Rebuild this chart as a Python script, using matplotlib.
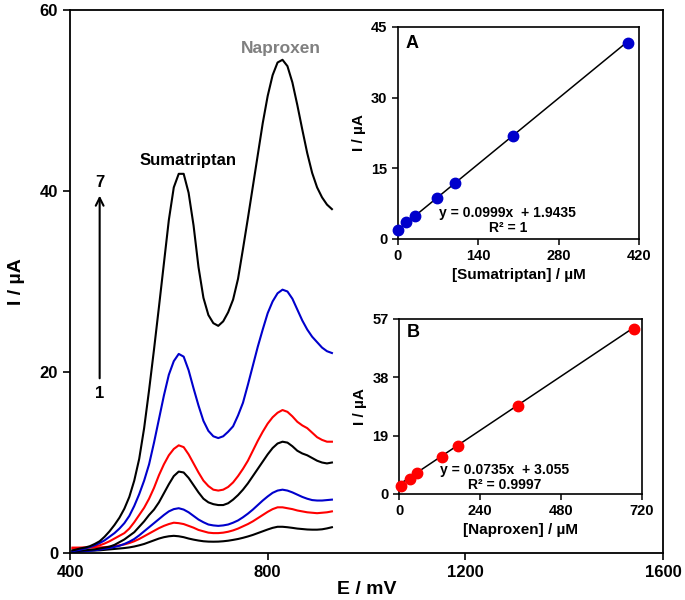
import numpy as np
import matplotlib as mp
mp.use('Agg')
import matplotlib.pyplot as plt

plt.rcParams['font.family'] = ['Liberation Sans', 'DejaVu Sans']
plt.rcParams['font.weight'] = 'bold'

# potential grid (mV) and DPV currents (uA), curves 1..7 from bottom to top
E = [405, 410, 420, 430, 440, 450, 460, 470, 480, 490, 500, 510, 520, 530, 540, 550,
     560, 570, 580, 590, 600, 610, 620, 630, 640, 650, 660, 670, 680, 690, 700, 710,
     720, 730, 740, 750, 760, 770, 780, 790, 800, 810, 820, 830, 840, 850, 860, 870,
     880, 890, 900, 910, 920, 930]

I1 = [0.2, 0.2, 0.22, 0.24, 0.26, 0.28, 0.3, 0.35, 0.4, 0.45, 0.5, 0.55, 0.62, 0.72, 0.85, 1.0,
      1.2, 1.4, 1.6, 1.75, 1.85, 1.9, 1.85, 1.75, 1.6, 1.48, 1.38, 1.3, 1.26, 1.25, 1.26, 1.3,
      1.36, 1.45, 1.55, 1.68, 1.83, 2.0, 2.2, 2.4, 2.6, 2.78, 2.9, 2.9, 2.85, 2.78, 2.7, 2.65,
      2.6, 2.58, 2.58, 2.62, 2.72, 2.85]
I2 = [0.6, 0.6, 0.6, 0.6, 0.6, 0.6, 0.62, 0.65, 0.7, 0.75, 0.85, 0.95, 1.1, 1.3, 1.55, 1.85,
      2.15, 2.45, 2.75, 3.0, 3.2, 3.35, 3.3, 3.2, 3.0, 2.8, 2.55, 2.4, 2.25, 2.2, 2.2, 2.25,
      2.35, 2.5, 2.7, 2.95, 3.2, 3.5, 3.85, 4.2, 4.55, 4.85, 5.05, 5.05, 4.95, 4.85, 4.7, 4.6,
      4.5, 4.45, 4.4, 4.45, 4.5, 4.6]
I3 = [0.1, 0.12, 0.15, 0.2, 0.25, 0.3, 0.38, 0.47, 0.56, 0.67, 0.8, 1.0, 1.25, 1.55, 1.95, 2.4,
      2.85, 3.3, 3.75, 4.2, 4.6, 4.85, 4.95, 4.8, 4.5, 4.1, 3.7, 3.4, 3.15, 3.05, 3.0, 3.05,
      3.15, 3.35, 3.6, 3.95, 4.35, 4.8, 5.3, 5.8, 6.25, 6.65, 6.9, 7.0, 6.9, 6.7, 6.45, 6.2,
      6.0, 5.85, 5.8, 5.8, 5.85, 5.9]
I4 = [0.2, 0.2, 0.25, 0.3, 0.35, 0.4, 0.5, 0.6, 0.7, 0.9, 1.2, 1.5, 1.9, 2.3, 2.9, 3.5,
      4.2, 4.8, 5.6, 6.6, 7.6, 8.5, 9.0, 8.9, 8.3, 7.5, 6.7, 6.0, 5.6, 5.4, 5.3, 5.3,
      5.5, 5.9, 6.4, 7.0, 7.7, 8.5, 9.3, 10.1, 10.9, 11.6, 12.1, 12.3, 12.2, 11.8, 11.3, 11.0,
      10.8, 10.5, 10.2, 10.0, 9.9, 10.0]
I5 = [0.5, 0.5, 0.55, 0.6, 0.65, 0.75, 0.85, 1.05, 1.3, 1.6, 1.9, 2.2, 2.7, 3.4, 4.2, 5.0,
      6.0, 7.2, 8.6, 9.8, 10.8, 11.5, 11.9, 11.7, 10.9, 9.9, 8.9, 8.0, 7.4, 7.0, 6.9, 7.0,
      7.3, 7.8, 8.5, 9.3, 10.2, 11.3, 12.4, 13.4, 14.3, 15.0, 15.5, 15.8, 15.6, 15.1, 14.5, 14.1,
      13.8, 13.3, 12.8, 12.5, 12.3, 12.3]
I6 = [0.2, 0.25, 0.35, 0.5, 0.65, 0.85, 1.1, 1.4, 1.8, 2.2, 2.7, 3.3, 4.1, 5.2, 6.5, 8.0,
      9.8, 12.2, 14.8, 17.4, 19.7, 21.2, 22.0, 21.7, 20.2, 18.2, 16.3, 14.6, 13.5, 12.9, 12.7, 12.9,
      13.4, 14.0, 15.2, 16.6, 18.6, 20.7, 22.8, 24.7, 26.5, 27.8, 28.7, 29.1, 28.9, 28.1, 26.9, 25.7,
      24.7, 23.9, 23.3, 22.7, 22.3, 22.1]
I7 = [0.3, 0.35, 0.5, 0.6, 0.75, 1.0, 1.3, 1.8, 2.4, 3.1, 3.9, 4.9, 6.2, 8.0, 10.4, 13.8,
      18.0, 22.5, 27.2, 32.0, 36.8, 40.4, 41.9, 41.9, 39.8, 36.2, 31.6, 28.2, 26.3, 25.4, 25.1, 25.6,
      26.6, 28.0, 30.3, 33.6, 37.0, 40.5, 44.0, 47.5, 50.5, 52.8, 54.2, 54.5, 53.8, 52.0, 49.5, 46.8,
      44.2, 42.0, 40.4, 39.3, 38.5, 38.0]

curves = [I1, I2, I3, I4, I5, I6, I7]
colors = ['black', '#ff0000', '#0000cc', 'black', '#ff0000', '#0000cc', 'black']

# calibration data
suma_conc = [0, 14, 30, 68, 100, 200, 400]
suma_I = [1.9, 3.5, 4.9, 8.8, 11.9, 21.8, 41.7]
suma_fit = (0.0999, 1.9435)

napro_conc = [7, 32, 52, 126, 175, 352, 697]
napro_I = [2.6, 4.9, 6.8, 12.2, 15.5, 28.7, 53.8]
napro_fit = (0.0735, 3.055)

fig = plt.figure(figsize=(6.85, 6.0), dpi=100)

ax = fig.add_axes([0.1022, 0.0783, 0.8657, 0.905])
for I, c in zip(curves, colors):
    ax.plot(E, I, '-', color=c, lw=1.5)
ax.set_xlim(400, 1600)
ax.set_ylim(0, 60)
ax.set_xticks([400, 800, 1200, 1600])
ax.set_yticks([0, 20, 40, 60])
ax.tick_params(labelsize=12, length=5, width=1.2, direction='out')
for s in ax.spines.values():
    s.set_linewidth(1.3)
ax.set_xlabel('E / mV', fontsize=14, fontweight='bold', labelpad=1)
ax.set_ylabel('I / µA', fontsize=14, fontweight='bold', labelpad=11)

ax.text(638, 43.4, 'Sumatriptan', ha='center', va='center', fontsize=12, fontweight='bold')
ax.text(826, 55.8, 'Naproxen', ha='center', va='center', fontsize=12.5,
        fontweight='bold', color='#808080')
ax.annotate('', xy=(460, 39.8), xytext=(460, 19.0),
            arrowprops=dict(arrowstyle='->', lw=1.5, color='black', mutation_scale=14))
ax.text(460, 40.9, '7', ha='center', va='center', fontsize=12, fontweight='bold')
ax.text(460, 17.6, '1', ha='center', va='center', fontsize=12, fontweight='bold')


def inset(rect, x, y, fit, color, xticks, yticks, xlabel, tag, eq, r2, eqpos):
    a = fig.add_axes(rect)
    xx = np.array([x[0], x[-1]])
    a.plot(xx, fit[0] * xx + fit[1], '-', color='black', lw=1.1, zorder=2)
    a.plot(x, y, 'o', color=color, ms=7.5, zorder=3, clip_on=False)
    a.set_xlim(xticks[0], xticks[-1])
    a.set_ylim(yticks[0], yticks[-1])
    a.set_xticks(xticks)
    a.set_yticks(yticks)
    a.tick_params(labelsize=10.5, length=4, width=1.1, direction='out', colors='black')
    for s in a.spines.values():
        s.set_linewidth(1.2)
    a.set_xlabel(xlabel, fontsize=11, fontweight='bold', labelpad=3)
    a.set_ylabel('I / µA', fontsize=11, fontweight='bold', labelpad=4)
    a.text(0.03, 0.92, tag, transform=a.transAxes, fontsize=13, fontweight='bold',
           ha='left', va='center')
    a.text(eqpos[0], eqpos[1], eq, transform=a.transAxes, fontsize=10,
           fontweight='bold', ha='center', va='center')
    a.text(eqpos[0], eqpos[1] - 0.072 * 0.3533 / rect[3], r2, transform=a.transAxes,
           fontsize=10, fontweight='bold', ha='center', va='center')
    return a


inset([0.581, 0.6017, 0.352, 0.3533], suma_conc, suma_I, suma_fit, '#0000cc',
      [0, 140, 280, 420], [0, 15, 30, 45], '[Sumatriptan] / µM', 'A',
      'y = 0.0999x  + 1.9435', 'R² = 1', (0.456, 0.124))
inset([0.5825, 0.1767, 0.3547, 0.2917], napro_conc, napro_I, napro_fit, '#ff0000',
      [0, 240, 480, 720], [0, 19, 38, 57], '[Naproxen] / µM', 'B',
      'y = 0.0735x  + 3.055', 'R² = 0.9997', (0.436, 0.137))

plt.savefig('out.png', dpi=100)
